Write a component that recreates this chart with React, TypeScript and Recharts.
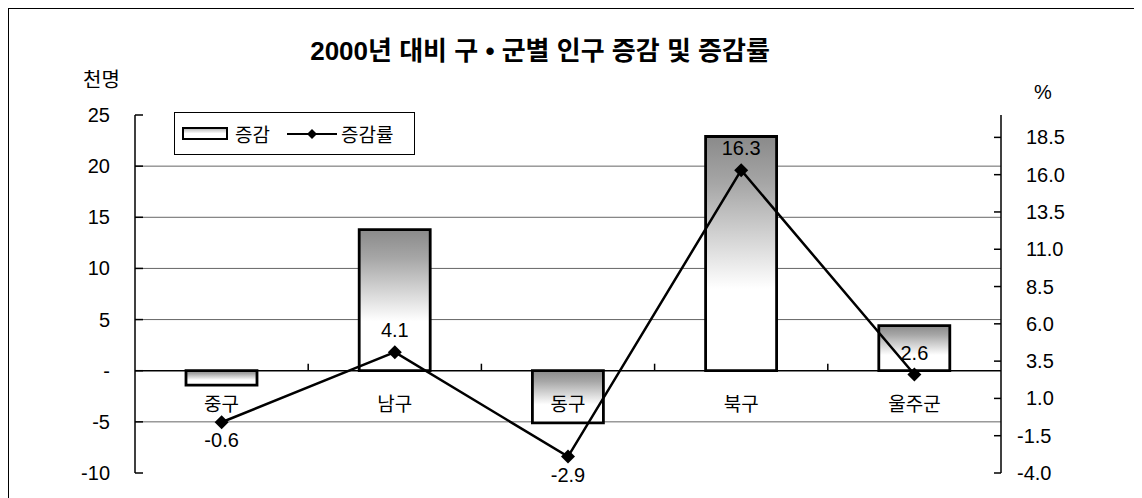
import { ComposedChart, Bar, Line, XAxis, YAxis, CartesianGrid, ReferenceLine, LabelList } from 'recharts';

const districts = ['중구', '남구', '동구', '북구', '울주군'];
const changeValues = [-1.4, 13.8, -5.1, 22.9, 4.4];
const rateValues = [-0.6, 4.1, -2.9, 16.3, 2.6];
const leftTicks = [-10, -5, 0, 5, 10, 15, 20, 25];
const rightTicks = [-4, -1.5, 1, 3.5, 6, 8.5, 11, 13.5, 16, 18.5];
const gridValues = [-5, 5, 10, 15, 20];

const data = districts.map((name, i) => ({ name, change: changeValues[i], rate: rateValues[i] }));

const FONT = '"Liberation Sans", "Noto Sans CJK KR", sans-serif';

function LeftTick({ x, y, payload }: any) {
  const v = payload.value;
  return (
    <g>
      <line x1={x} x2={x + 8} y1={y} y2={y} stroke="#000" strokeWidth={1.5} />
      <text x={x - 25} y={y} dy={7} textAnchor="end" fontSize={20} fontFamily={FONT} fill="#000">
        {v === 0 ? '-' : v}
      </text>
    </g>
  );
}

function RightTick({ x, y, payload }: any) {
  const v = payload.value;
  return (
    <g>
      <line x1={x - 7} x2={x} y1={y} y2={y} stroke="#000" strokeWidth={1.5} />
      <text x={x + (v < 0 ? 16 : 25)} y={y} dy={7} textAnchor="start" fontSize={20} fontFamily={FONT} fill="#000">
        {v.toFixed(1)}
      </text>
    </g>
  );
}

function CategoryTick({ x, y, payload }: any) {
  return (
    <text x={x} y={y - 62} textAnchor="middle" fontSize={19} fontFamily={FONT} fill="#000">
      {payload.value}
    </text>
  );
}

// zero line with small upward ticks at the category boundaries
function ZeroLine({ x1, y1, x2, y2 }: any) {
  const n = districts.length;
  const step = (x2 - x1) / n;
  return (
    <g>
      <line x1={x1} y1={y1} x2={x2} y2={y2} stroke="#000" strokeWidth={1.5} />
      {districts.slice(1).map((d, i) => (
        <line key={d} x1={x1 + step * (i + 1)} x2={x1 + step * (i + 1)} y1={y1} y2={y1 - 7} stroke="#000" strokeWidth={1.5} />
      ))}
    </g>
  );
}

function Diamond({ cx, cy }: any) {
  if (cx == null || cy == null) return null;
  return <path d={`M${cx},${cy - 7}L${cx + 7},${cy}L${cx},${cy + 7}L${cx - 7},${cy}Z`} fill="#000" />;
}

function RateLabel({ x, y, value }: any) {
  if (x == null || y == null) return null;
  const neg = value < 0;
  return (
    <text x={x} y={neg ? y + 25 : y - 15} textAnchor="middle" fontSize={20} fontFamily={FONT} fill="#000">
      {Number(value).toFixed(1)}
    </text>
  );
}

function LegendBox() {
  return (
    <div
      style={{
        position: 'absolute',
        left: 165,
        top: 103,
        boxSizing: 'border-box',
        width: 241,
        height: 43,
        border: '1px solid #000',
        background: '#fff',
        display: 'flex',
        alignItems: 'center',
        fontFamily: FONT,
        fontSize: 19,
        color: '#000',
      }}
    >
      <svg width={46} height={13} style={{ marginLeft: 7 }}>
        <defs>
          <linearGradient id="legendGrad" x1="0" y1="0" x2="0" y2="1">
            <stop offset="0%" stopColor="#b0b0b0" />
            <stop offset="50%" stopColor="#ffffff" />
          </linearGradient>
        </defs>
        <rect x={1} y={1} width={44} height={11} fill="url(#legendGrad)" stroke="#000" strokeWidth={2} />
      </svg>
      <span style={{ marginLeft: 7 }}>증감</span>
      <svg width={50} height={12} style={{ marginLeft: 17 }}>
        <line x1={0} x2={50} y1={6} y2={6} stroke="#000" strokeWidth={2} />
        <path d="M25,1L30,6L25,11L20,6Z" fill="#000" />
      </svg>
      <span style={{ marginLeft: 4 }}>증감률</span>
    </div>
  );
}

export default function App() {
  return (
    <div
      style={{
        position: 'relative',
        width: 1132,
        height: 500,
        border: '1px solid #000',
        background: '#fff',
        fontFamily: FONT,
      }}
    >
      <div
        style={{
          position: 'absolute',
          left: 531,
          top: 39,
          transform: 'translate(-50%, -50%)',
          fontSize: 26,
          fontWeight: 'bold',
          whiteSpace: 'nowrap',
          color: '#000',
        }}
      >
        2000년 대비 구 • 군별 인구 증감 및 증감률
      </div>
      <div style={{ position: 'absolute', left: 74, top: 69, transform: 'translateY(-50%)', fontSize: 20 }}>천명</div>
      <div style={{ position: 'absolute', left: 1025, top: 83, transform: 'translateY(-50%)', fontSize: 20 }}>%</div>

      <ComposedChart width={1132} height={490} data={data} margin={{ top: 106, right: 40, bottom: 0, left: 0 }}>
        <defs>
          <linearGradient id="barGrad" x1="0" y1="0" x2="0" y2="1">
            <stop offset="0%" stopColor="#8a8a8a" />
            <stop offset="20%" stopColor="#a6a6a6" />
            <stop offset="65%" stopColor="#ffffff" />
            <stop offset="100%" stopColor="#ffffff" />
          </linearGradient>
        </defs>
        <CartesianGrid yAxisId="left" vertical={false} horizontalValues={gridValues} stroke="#666" strokeWidth={1} />
        <XAxis dataKey="name" axisLine={false} tickLine={false} tickSize={0} tickMargin={0} height={26} tick={<CategoryTick />} interval={0} />
        <YAxis
          yAxisId="left"
          width={126}
          domain={[-10, 25]}
          ticks={leftTicks}
          interval={0}
          axisLine={{ stroke: '#000', strokeWidth: 1.5 }}
          tickLine={false}
          tickSize={0}
          tickMargin={0}
          tick={<LeftTick />}
        />
        <YAxis
          yAxisId="right"
          orientation="right"
          width={100}
          domain={[-4, 20]}
          ticks={rightTicks}
          interval={0}
          axisLine={{ stroke: '#000', strokeWidth: 1.5 }}
          tickLine={false}
          tickSize={0}
          tickMargin={0}
          tick={<RightTick />}
        />
        <Bar yAxisId="left" dataKey="change" barSize={71} fill="url(#barGrad)" stroke="#000" strokeWidth={2.8} isAnimationActive={false} />
        <ReferenceLine yAxisId="left" y={0} shape={<ZeroLine />} />
        <Line
          yAxisId="right"
          type="linear"
          dataKey="rate"
          stroke="#000"
          strokeWidth={2.5}
          dot={<Diamond />}
          activeDot={false}
          isAnimationActive={false}
        >
          <LabelList dataKey="rate" content={<RateLabel />} />
        </Line>
      </ComposedChart>
      <LegendBox />
    </div>
  );
}
